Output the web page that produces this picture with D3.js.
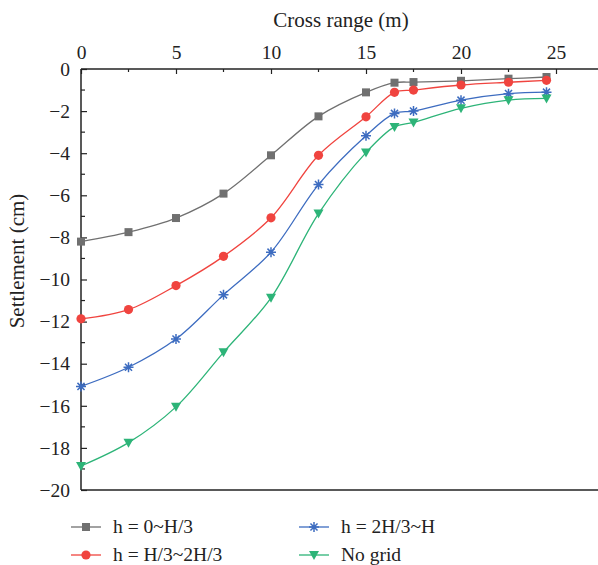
<!DOCTYPE html>
<html>
<head>
<meta charset="utf-8">
<script src="https://cdn.jsdelivr.net/npm/d3@7"></script>
<style>
  html, body { margin: 0; padding: 0; background: #fff; }
  svg { display: block; }
  text { font-family: "Liberation Serif", "DejaVu Serif", serif; fill: #222; }
</style>
</head>
<body>
<svg id="chart" width="598" height="565"></svg>
<script>
// ---- data ----
const crossRange = [0, 2.5, 5, 7.5, 10, 12.5, 15, 16.5, 17.5, 20, 22.5, 24.5];
const seriesNames = ["h = 0~H/3", "h = H/3~2H/3", "h = 2H/3~H", "No grid"];
const h0 = [-8.2, -7.75, -7.08, -5.92, -4.1, -2.25, -1.11, -0.65, -0.62, -0.56, -0.46, -0.38];
const h1 = [-11.87, -11.43, -10.29, -8.9, -7.07, -4.1, -2.27, -1.11, -1.0, -0.76, -0.63, -0.54];
const h2 = [-15.08, -14.17, -12.83, -10.73, -8.7, -5.49, -3.17, -2.11, -2.0, -1.48, -1.17, -1.1];
const noGrid = [-18.86, -17.75, -16.05, -13.46, -10.87, -6.87, -3.97, -2.75, -2.54, -1.87, -1.48, -1.4];
const xTicks = [0, 5, 10, 15, 20, 25];
const yTicks = [0, -2, -4, -6, -8, -10, -12, -14, -16, -18, -20];

const colors = ["#707070", "#f0443f", "#3d6cc0", "#2db478"];
const markers = ["square", "circle", "asterisk", "triangle"];
const allSeries = [h0, h1, h2, noGrid];

// ---- layout ----
const svg = d3.select("#chart");
const mLeft = 81, mTop = 69, mBottom = 490;
const x = d3.scaleLinear().domain([0, 27.5]).range([mLeft, mLeft + 27.5 * 19]);
const y = d3.scaleLinear().domain([0, -20]).range([mTop, mBottom]);

const fmt = d => d < 0 ? "\u2212" + Math.abs(d) : String(d);

// frame lines
svg.append("line").attr("x1", mLeft).attr("x2", 598).attr("y1", mTop).attr("y2", mTop)
  .attr("stroke", "#222").attr("stroke-width", 1.5);
svg.append("line").attr("x1", mLeft).attr("x2", 598).attr("y1", mBottom).attr("y2", mBottom)
  .attr("stroke", "#222").attr("stroke-width", 1.5);

// top x axis
const xAxis = d3.axisTop(x).tickValues(xTicks).tickSize(-5).tickPadding(10).tickFormat(fmt);
const gx = svg.append("g").attr("transform", `translate(0,${mTop})`).call(xAxis);
gx.select(".domain").remove();
gx.selectAll(".tick line").attr("stroke", "#222").attr("stroke-width", 1.2);
gx.selectAll(".tick text").attr("font-size", 19.5).attr("fill", "#222");
// minor x ticks
const xMinor = d3.range(2.5, 27.5, 5);
svg.append("g").selectAll("line").data(xMinor).join("line")
  .attr("x1", d => x(d)).attr("x2", d => x(d)).attr("y1", mTop).attr("y2", mTop + 3)
  .attr("stroke", "#222").attr("stroke-width", 1.2);

// left y axis
const yAxis = d3.axisLeft(y).tickValues(yTicks).tickSize(-6).tickPadding(11).tickFormat(fmt);
const gy = svg.append("g").attr("transform", `translate(${mLeft},0)`).call(yAxis);
gy.select(".domain").attr("stroke", "#222").attr("stroke-width", 1.5).attr("d", `M0,${mTop}V${mBottom}`);
gy.selectAll(".tick line").attr("stroke", "#222").attr("stroke-width", 1.2);
gy.selectAll(".tick text").attr("font-size", 19.5).attr("fill", "#222");
const yMinor = d3.range(-1, -20, -2);
svg.append("g").selectAll("line").data(yMinor).join("line")
  .attr("x1", mLeft).attr("x2", mLeft + 4).attr("y1", d => y(d)).attr("y2", d => y(d))
  .attr("stroke", "#222").attr("stroke-width", 1.2);

// axis titles
svg.append("text").attr("x", 341).attr("y", 27).attr("text-anchor", "middle")
  .attr("font-size", 21).text("Cross range (m)");
svg.append("text").attr("transform", "translate(24,261) rotate(-90)")
  .attr("text-anchor", "middle").attr("font-size", 21).text("Settlement (cm)");

// marker drawing
function drawMarker(g, type, color, cx, cy) {
  if (type === "square") {
    g.append("rect").attr("x", cx - 4).attr("y", cy - 4).attr("width", 8).attr("height", 8).attr("fill", color);
  } else if (type === "circle") {
    g.append("circle").attr("cx", cx).attr("cy", cy).attr("r", 4.6).attr("fill", color);
  } else if (type === "triangle") {
    g.append("path").attr("d", `M${cx - 5},${cy - 4}L${cx + 5},${cy - 4}L${cx},${cy + 5}Z`).attr("fill", color);
  } else if (type === "asterisk") {
    const r = 5;
    const p = [];
    for (let i = 0; i < 4; i++) {
      const a = i * Math.PI / 4 + Math.PI / 2;
      p.push(`M${cx - r * Math.cos(a)},${cy - r * Math.sin(a)}L${cx + r * Math.cos(a)},${cy + r * Math.sin(a)}`);
    }
    g.append("path").attr("d", p.join("")).attr("stroke", color).attr("stroke-width", 1.5).attr("fill", "none");
  }
}

// series
const line = d3.line().x(d => x(d[0])).y(d => y(d[1])).curve(d3.curveCatmullRom.alpha(0.5));
allSeries.forEach((vals, i) => {
  const pts = crossRange.map((c, j) => [c, vals[j]]);
  const g = svg.append("g");
  g.append("path").attr("d", line(pts)).attr("fill", "none")
    .attr("stroke", colors[i]).attr("stroke-width", 1.3);
  pts.forEach(p => drawMarker(g, markers[i], colors[i], x(p[0]), y(p[1])));
});

// legend
const legendPos = [[71, 527], [71, 555], [299, 527], [299, 555]];
seriesNames.forEach((name, i) => {
  const [lx, ly] = legendPos[i];
  const g = svg.append("g");
  g.append("line").attr("x1", lx).attr("x2", lx + 30).attr("y1", ly).attr("y2", ly)
    .attr("stroke", colors[i]).attr("stroke-width", 1.3);
  drawMarker(g, markers[i], colors[i], lx + 15, ly);
  g.append("text").attr("x", lx + 42).attr("y", ly + 6).attr("font-size", 19.5).text(name);
});
</script>
</body>
</html>
